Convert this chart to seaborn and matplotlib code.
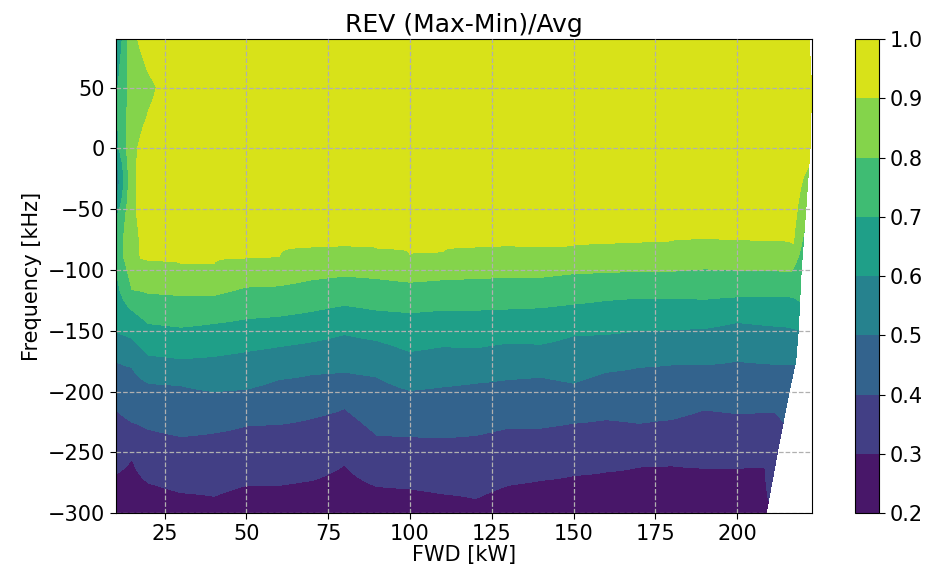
import numpy as np
import matplotlib
matplotlib.use("Agg")
import matplotlib.pyplot as plt
import seaborn as sns

sns.set_style("ticks")
plt.rcParams['font.family'] = ['DejaVu Sans']
plt.rcParams.update({'text.color': 'black', 'axes.labelcolor': 'black',
                     'xtick.color': 'black', 'ytick.color': 'black',
                     'axes.edgecolor': 'black'})

nan = np.nan
# interior FWD columns [kW]; two more columns follow: near-edge and edge of the data domain
fwd_cols = [10, 15, 20, 30, 40, 50, 60, 70, 80, 90, 100, 110, 120, 130, 140, 150,
            160, 170, 180, 190, 200]
# right edge of measured domain (FWD max per frequency)
edge_freq = [-300, -250, -200, -175, -150, -100, -50, 0, 50, 90]
edge_fwd = [208.9, 212.3, 215.9, 217.9, 218.7, 219.6, 221.0, 222.3, 222.8, 222.0]

# frequency [kHz] at which the value crosses each level, per column
b30 = [-268, -255, -275, -283, -286, -277, -277, -273, -260, -278, -280, -284, -288, -277,
       -273, -269, -266, -262, -261, -263, -263, -262, -290]
b40 = [-215, -225, -231, -237, -234, -228, -227, -222, -214, -236, -237, -238, -236, -230,
       -230, -226, -223, -226, -223, -215, -218, -217, -225]
b50 = [-175, -180, -193, -195, -200, -198, -190, -186, -184, -188, -199, -196, -193, -190,
       -188, -193, -184, -180, -178, -178, -175, -178, -178]
b60 = [-151, -156, -170, -173, -171, -167, -163, -159, -153, -158, -167, -163, -164, -160,
       -161, -154, -153, -150, -149, -148, -143, -147, -149]
b70 = [-98, -133, -144, -147, -144, -140, -138, -134, -129, -133, -135, -133, -133, -132,
       -131, -128, -125, -123, -123, -124, -122, -122, -126]
b80 = [nan, -116, -119, -121, -121, -114, -113, -108, -105, -107, -110, -108, -107, -106,
       -106, -103, -102, -101, -101, -99, -100, -101, -68]
b90 = [nan, nan, -92, -95, -95, -90, -89, -81, -80, -82, -87, -85, -81, -80,
       -81, -80, -78, -77, -76, -74, -75, -78, -15]
bottom_val = 0.25
top_val = [0.96] * 22 + [0.93]

# upper-left region (non monotonic), values read at these frequencies
upper_freq = [-90, -75, -55, -40, -28, -15, 0, 25, 50, 70, 90]
col10_upper = [0.73, 0.75, 0.68, 0.58, 0.52, 0.56, 0.66, 0.68, 0.68, 0.64, 0.58]
col15_upper = [0.87, 0.86, 0.88, 0.88, 0.88, 0.88, 0.88, 0.86, 0.84, 0.86, 0.88]
col20_upper = [0.93, 0.95, 0.95, 0.95, 0.95, 0.95, 0.94, 0.905, 0.885, 0.91, 0.94]

levels = np.round(np.arange(0.2, 1.01, 0.1), 2)
bound_levels = [0.3, 0.4, 0.5, 0.6, 0.7, 0.8, 0.9]
bounds = [b30, b40, b50, b60, b70, b80, b90]
overrides = {0: col10_upper, 1: col15_upper, 2: col20_upper}

freq = np.arange(-300, 90.01, 1.0)
ncol = len(fwd_cols) + 2
edge = np.interp(freq, edge_freq, edge_fwd)
X = np.empty((len(freq), ncol))
X[:, :len(fwd_cols)] = np.array(fwd_cols, dtype=float)[None, :]
X[:, -2] = edge - 3
X[:, -1] = edge
Y = np.repeat(freq[:, None], ncol, axis=1)
Z = np.empty_like(X)
for j in range(ncol):
    fp = [-300.0]
    vp = [bottom_val]
    for L, b in zip(bound_levels, bounds):
        if not np.isnan(b[j]):
            fp.append(b[j]); vp.append(L)
    if j in overrides:
        fp += upper_freq; vp += overrides[j]
    else:
        fp.append(90.0); vp.append(top_val[j])
    Z[:, j] = np.interp(freq, fp, vp)

fig = plt.figure(figsize=(9.25, 5.66), dpi=100)
ax = fig.add_axes([0.125, 0.0931, 0.7525, 0.838])
cax = fig.add_axes([0.9243, 0.0931, 0.026, 0.838])
cmap = sns.color_palette("viridis", as_cmap=True)
cs = ax.contourf(X, Y, Z, levels=levels, cmap=cmap)
cb = fig.colorbar(cs, cax=cax)
cb.set_ticks(levels)
cb.set_ticklabels([f"{v:.1f}" for v in levels])
cb.ax.tick_params(labelsize=15, length=4)
cb.outline.set_linewidth(0.8)

ax.grid(True, linestyle='--', color='#b0b0b0', linewidth=0.9)
ax.set_axisbelow(False)
ax.set_title("REV (Max-Min)/Avg", fontsize=18, pad=5)
ax.set_xlabel("FWD [kW]", fontsize=15, labelpad=1)
ax.set_ylabel("Frequency [kHz]", fontsize=15, labelpad=4)
ax.tick_params(labelsize=15, length=4)
for s in ax.spines.values():
    s.set_visible(True)
    s.set_linewidth(0.8)
fig.savefig("out.png", dpi=100)
